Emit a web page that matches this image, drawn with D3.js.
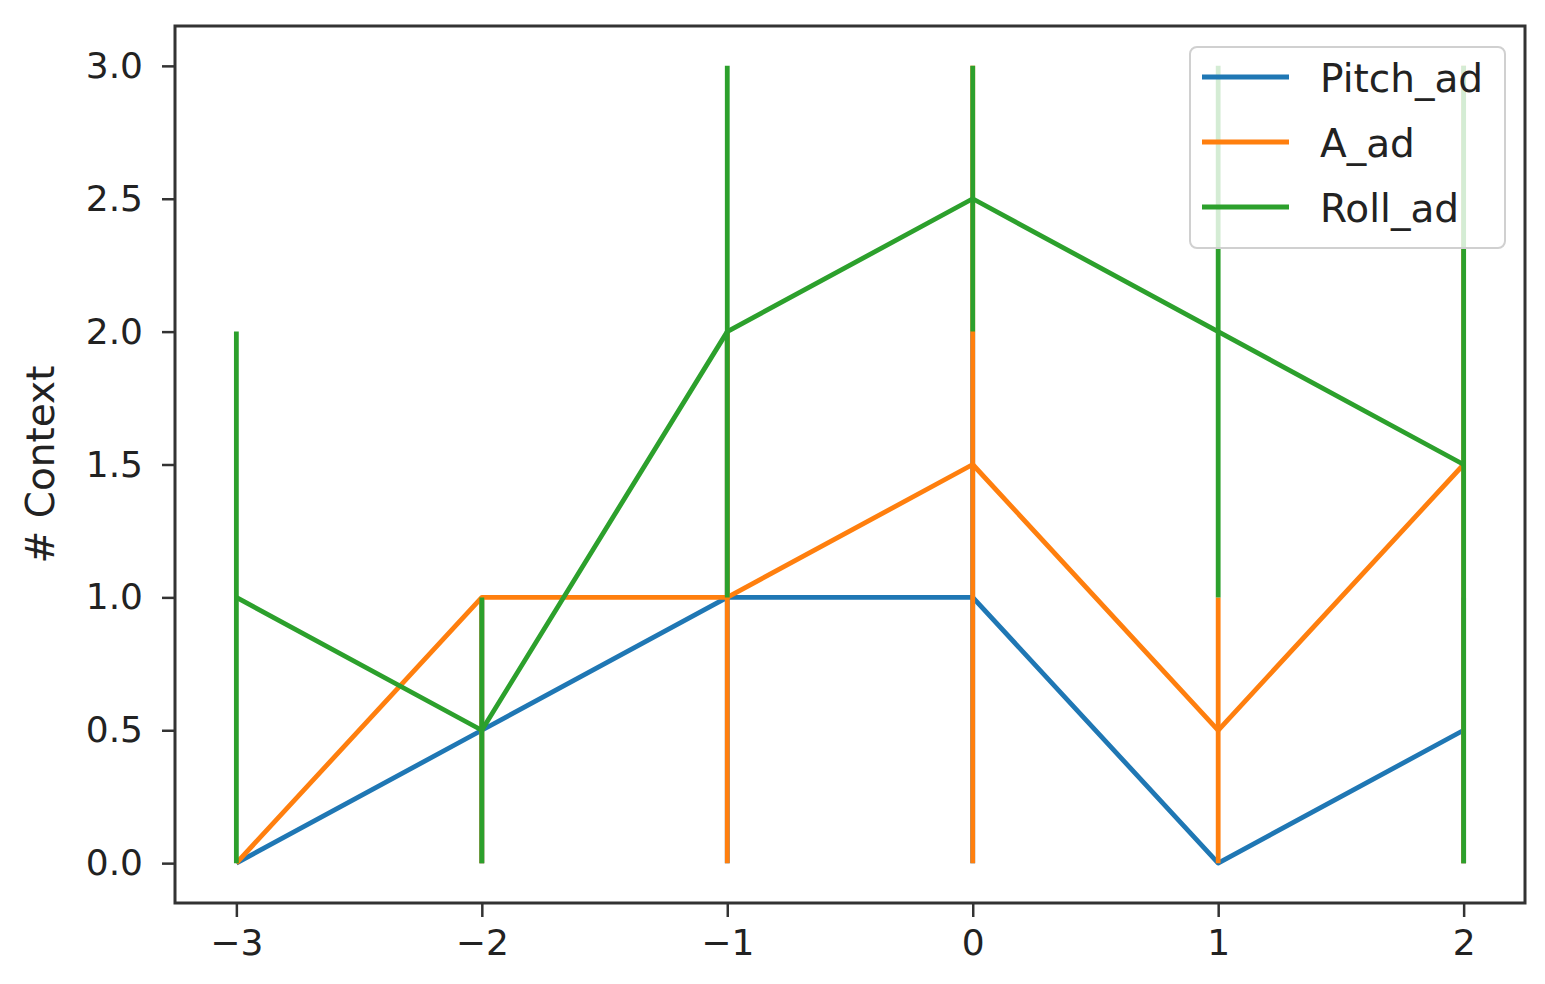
<!DOCTYPE html>
<html>
<head>
<meta charset="utf-8">
<script src="https://cdn.jsdelivr.net/npm/d3@7"></script>
<style>
  html, body { margin: 0; padding: 0; background: #fff; }
  svg { display: block; }
  text { font-family: "DejaVu Sans", sans-serif; }
</style>
</head>
<body>
<svg id="chart" width="1545" height="984"></svg>
<script>
// ---- data ----
const xValues = [-3, -2, -1, 0, 1, 2];
const seriesNames = ["Pitch_ad", "A_ad", "Roll_ad"];
const seriesColors = ["#1f77b4", "#ff7f0e", "#2ca02c"];
const pitchValues = [0, 0.5, 1, 1, 0, 0.5];
const aValues = [0, 1, 1, 1.5, 0.5, 1.5];
const rollValues = [1, 0.5, 2, 2.5, 2, 1.5];
// error bar ranges (low / high)
const pitchLow = [0, 0, 0, 0, 0, 0];
const pitchHigh = [0, 1, 2, 2, 0, 1];
const aLow = [0, 0, 0, 0, 0, 0];
const aHigh = [0, 1, 2, 3, 1, 3];
const rollLow = [0, 0, 1, 2, 1, 0];
const rollHigh = [2, 1, 3, 3, 3, 3];
const yTicks = [0, 0.5, 1.0, 1.5, 2.0, 2.5, 3.0];
const yLabel = "# Context";

const series = [
  { name: seriesNames[0], color: seriesColors[0], values: pitchValues, low: pitchLow, high: pitchHigh },
  { name: seriesNames[1], color: seriesColors[1], values: aValues, low: aLow, high: aHigh },
  { name: seriesNames[2], color: seriesColors[2], values: rollValues, low: rollLow, high: rollHigh }
];

// ---- layout ----
const plot = { left: 175, right: 1525, top: 26, bottom: 903 };
const svg = d3.select("#chart");

const x = d3.scaleLinear().domain([-3.25, 2.25]).range([plot.left, plot.right]);
const y = d3.scaleLinear().domain([-0.15, 3.15]).range([plot.bottom, plot.top]);

const lw = 4.8;
const tickFont = "36px";
const textFont = "39px";

// series: errorbars then line, in order
const g = svg.append("g");
series.forEach(s => {
  const sg = g.append("g");
  sg.selectAll("line.err")
    .data(xValues.map((xv, i) => ({ x: xv, lo: s.low[i], hi: s.high[i] })))
    .join("line")
    .attr("class", "err")
    .attr("x1", d => x(d.x)).attr("x2", d => x(d.x))
    .attr("y1", d => y(d.lo)).attr("y2", d => y(d.hi))
    .attr("stroke", s.color)
    .attr("stroke-width", lw);
  sg.append("path")
    .datum(xValues.map((xv, i) => [xv, s.values[i]]))
    .attr("d", d3.line().x(d => x(d[0])).y(d => y(d[1])))
    .attr("fill", "none")
    .attr("stroke", s.color)
    .attr("stroke-width", lw)
    .attr("stroke-linejoin", "round");
});

// frame
svg.append("rect")
  .attr("x", plot.left).attr("y", plot.top)
  .attr("width", plot.right - plot.left).attr("height", plot.bottom - plot.top)
  .attr("fill", "none").attr("stroke", "#333").attr("stroke-width", 3);

// axes
const fmtY = d3.format(".1f");
const xAxis = d3.axisBottom(x).tickValues(xValues).tickSize(14).tickPadding(12)
  .tickFormat(d => d3.format("d")(d).replace("-", "\u2212"));
const yAxis = d3.axisLeft(y).tickValues(yTicks).tickSize(13).tickPadding(19).tickFormat(fmtY);

const gx = svg.append("g").attr("transform", `translate(0,${plot.bottom})`).call(xAxis);
const gy = svg.append("g").attr("transform", `translate(${plot.left},0)`).call(yAxis);
[gx, gy].forEach(a => {
  a.attr("font-size", null).attr("font-family", null);
  a.select(".domain").remove();
  a.selectAll(".tick line").attr("stroke", "#333").attr("stroke-width", 2.5);
  a.selectAll(".tick text").attr("fill", "#222").style("font-size", tickFont)
    .style("font-family", "'DejaVu Sans', sans-serif");
});

// y label
svg.append("text")
  .attr("transform", `translate(54,${(plot.top + plot.bottom) / 2}) rotate(-90)`)
  .attr("text-anchor", "middle")
  .attr("fill", "#222")
  .style("font-size", textFont)
  .text(yLabel);

// legend
const leg = svg.append("g");
leg.append("rect")
  .attr("x", 1190).attr("y", 47).attr("width", 315).attr("height", 201)
  .attr("rx", 7).attr("ry", 7)
  .attr("fill", "rgba(255,255,255,0.8)")
  .attr("stroke", "#d0d0d0").attr("stroke-width", 2);
series.forEach((s, i) => {
  const yy = 77 + i * 65;
  leg.append("line")
    .attr("x1", 1202).attr("x2", 1289).attr("y1", yy).attr("y2", yy)
    .attr("stroke", s.color).attr("stroke-width", lw);
  leg.append("text")
    .attr("x", 1320).attr("y", yy + 15)
    .attr("fill", "#222").style("font-size", textFont)
    .text(s.name);
});
</script>
</body>
</html>
